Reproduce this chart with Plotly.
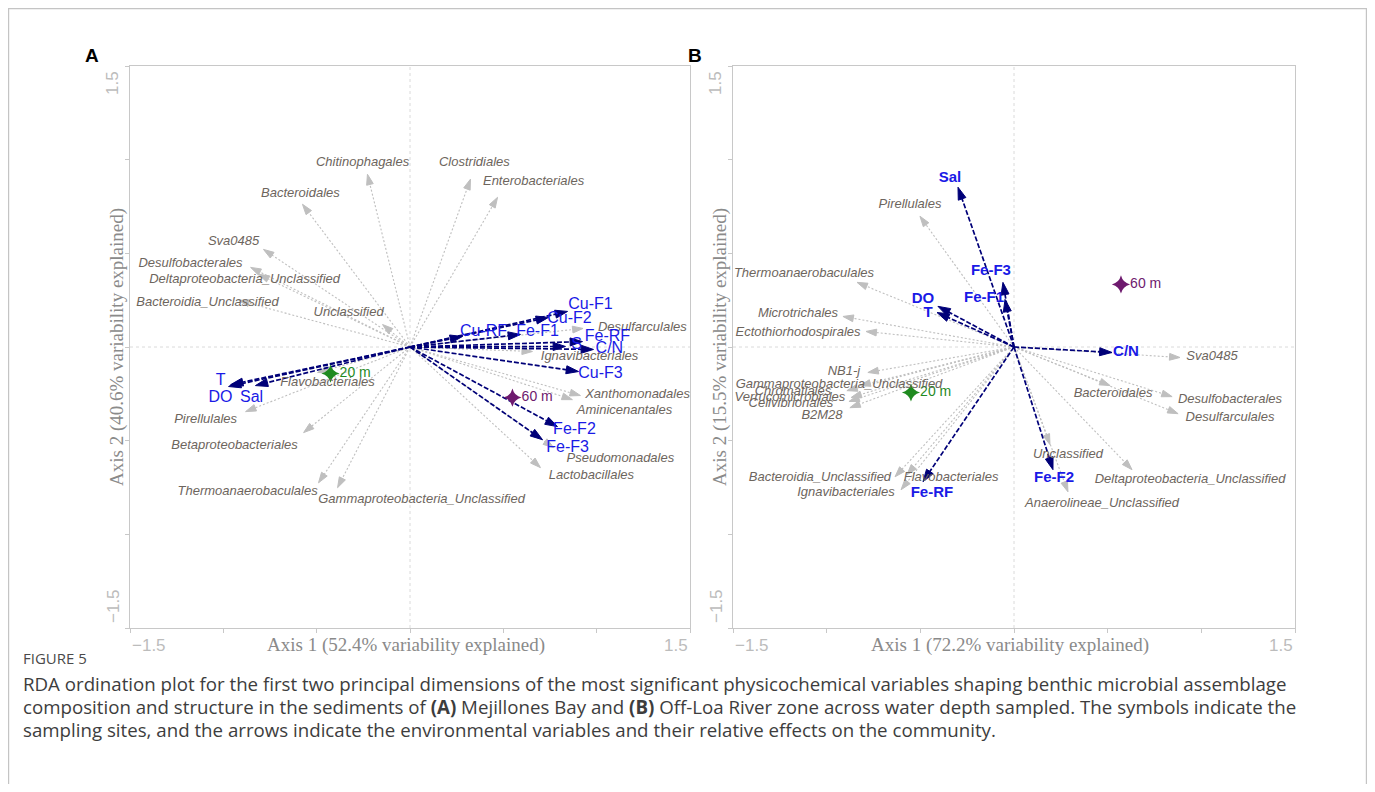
import plotly.graph_objects as go

W, H = 1375, 792
OFF = 8                      # default page margin around the plot div
FW, FH = W - 2 * OFF, H - 2 * OFF

# ---------------- Panel A (Mejillones Bay) ----------------
A_sp_names = ["Chitinophagales", "Bacteroidales", "Sva0485", "Desulfobacterales",
              "Deltaproteobacteria_Unclassified", "Bacteroidia_Unclassified", "Unclassified",
              "Flavobacteriales", "Pirellulales", "Betaproteobacteriales", "Thermoanaerobaculales",
              "Gammaproteobacteria_Unclassified", "Clostridiales", "Enterobacteriales",
              "Desulfarculales", "Ignavibacteriales", "Xanthomonadales", "Aminicenantales",
              "Pseudomonadales", "Lactobacillales"]
A_sp_x = [-0.228, -0.576, -0.785, -0.854, -0.811, -0.918, -0.147, -0.495, -0.881, -0.570,
          -0.490, -0.388, 0.324, 0.469, 0.927, 0.656, 0.913, 0.870, 0.769, 0.699]
A_sp_y = [0.922, 0.762, 0.521, 0.425, 0.388, 0.249, 0.120, -0.136, -0.345, -0.457,
          -0.725, -0.751, 0.896, 0.799, 0.099, -0.024, -0.259, -0.281, -0.537, -0.644]
A_sp_lx = [-0.254, -0.587, -0.945, -1.176, -0.886, -1.085, -0.329, -0.442, -1.095, -0.940,
           -0.870, 0.062, 0.345, 0.662, 1.245, 0.962, 1.219, 1.149, 1.127, 0.972]
A_sp_ly = [0.981, 0.816, 0.564, 0.447, 0.361, 0.238, 0.184, -0.190, -0.388, -0.527,
           -0.773, -0.816, 0.981, 0.880, 0.104, -0.051, -0.254, -0.340, -0.596, -0.687]

A_env_names = ["Cu-F1", "Cu-F2", "Cu-RF", "Fe-F1", "Fe-RF", "S", "C/N", "Cu-F3",
               "Fe-F2", "Fe-F3", "T", "DO", "Sal"]
A_env_x = [0.844, 0.742, 0.281, 0.592, 0.924, 0.833, 0.983, 0.903, 0.790, 0.710,
           -0.961, -0.972, -0.828]
A_env_y = [0.190, 0.158, 0.056, 0.067, 0.029, 0.003, -0.013, -0.131, -0.425, -0.495,
           -0.201, -0.211, -0.206]
A_env_lx = [0.967, 0.854, 0.394, 0.683, 1.058, 0.892, 1.068, 1.020, 0.881, 0.844,
            -1.015, -1.015, -0.849]
A_env_ly = [0.222, 0.152, 0.078, 0.078, 0.051, 0.013, -0.008, -0.142, -0.441, -0.537,
            -0.184, -0.270, -0.270]

A_site_names = ["20 m", "60 m"]
A_site_x = [-0.426, 0.549]
A_site_y = [-0.142, -0.270]

# ---------------- Panel B (Off-Loa River) ----------------
B_sp_names = ["Pirellulales", "Thermoanaerobaculales", "Microtrichales", "Ectothiorhodospirales",
              "NB1-j", "Gammaproteobacteria_Unclassified", "Chromatiales", "Verrucomicrobiales",
              "Cellvibrionales", "B2M28", "Bacteroidia_Unclassified", "Flavobacteriales",
              "Ignavibacteriales", "Sva0485", "Bacteroidales", "Desulfobacterales",
              "Desulfarculales", "Unclassified", "Anaerolineae_Unclassified",
              "Deltaproteobacteria_Unclassified"]
B_sp_x = [-0.502, -0.838, -0.913, -0.790, -0.780, -0.822, -0.892, -0.870, -0.881, -0.876,
          -0.635, -0.571, -0.603, 0.886, 0.513, 0.844, 0.876, 0.192, 0.288, 0.630]
B_sp_y = [0.698, 0.345, 0.163, 0.083, -0.136, -0.206, -0.233, -0.270, -0.291, -0.324,
          -0.693, -0.682, -0.762, -0.056, -0.206, -0.265, -0.356, -0.521, -0.773, -0.655]
B_sp_lx = [-0.555, -1.121, -1.153, -1.153, -0.908, -0.934, -1.180, -1.196, -1.191, -1.025,
           -1.036, -0.336, -0.897, 1.057, 0.529, 1.153, 1.153, 0.288, 0.470, 0.940]
B_sp_ly = [0.757, 0.393, 0.179, 0.078, -0.131, -0.201, -0.238, -0.270, -0.302, -0.366,
           -0.698, -0.698, -0.778, -0.051, -0.249, -0.281, -0.377, -0.575, -0.837, -0.709]

B_env_names = ["Sal", "Fe-F3", "Fe-F1", "DO", "T", "C/N", "Fe-F2", "Fe-RF"]
B_env_x = [-0.299, -0.059, -0.048, -0.406, -0.411, 0.523, 0.208, -0.486]
B_env_y = [0.853, 0.345, 0.254, 0.217, 0.184, -0.029, -0.655, -0.719]
B_env_lx = [-0.342, -0.123, -0.160, -0.486, -0.459, 0.598, 0.214, -0.438]
B_env_ly = [0.901, 0.404, 0.259, 0.254, 0.179, -0.029, -0.698, -0.783]

B_site_names = ["20 m", "60 m"]
B_site_x = [-0.550, 0.571]
B_site_y = [-0.243, 0.334]

site_colors = ["#1f8a1f", "#6e1a6e"]

axis1_titles = ["Axis 1 (52.4% variability explained)", "Axis 1 (72.2% variability explained)"]
axis2_titles = ["Axis 2 (40.6% variability explained)", "Axis 2 (15.5% variability explained)"]
panel_letters = ["A", "B"]
tick_lo, tick_hi = "\u22121.5", "1.5"

caption_head = "FIGURE 5"
caption_lines = [
    "RDA ordination plot for the first two principal dimensions of the most significant physicochemical variables shaping benthic microbial assemblage",
    "composition and structure in the sediments of <b>(A)</b> Mejillones Bay and <b>(B)</b> Off-Loa River zone across water depth sampled. The symbols indicate the",
    "sampling sites, and the arrows indicate the environmental variables and their relative effects on the community.",
]

# ---------------- styles ----------------
SP_LINE = "#bfbfbf"
SP_TEXT = "#6d655d"
ENV_LINE = "#000078"
ENV_TEXT = "#1a1ae6"
AX_COL = "#c8c8c8"
SANS = "Liberation Sans, Arial, sans-serif"
SERIF = "Liberation Serif, Times New Roman, serif"
CAP_FONT = "Open Sans, sans-serif"

# page-pixel layout of the two plot boxes
PX = {"A": (130, 690), "B": (733, 1295)}
PY_TOP, PY_BOT = 66, 628


def pxx(v):
    return (v - OFF) / FW


def pxy(v):
    return 1 - (v - OFF) / FH


def arrow_trace(xs, ys, color, dash, width, head, xa, ya):
    X, Y, S = [], [], []
    for x, y in zip(xs, ys):
        X += [0, x, None]
        Y += [0, y, None]
        S += [0, head, 0]
    return go.Scatter(
        x=X, y=Y, mode="lines+markers", xaxis=xa, yaxis=ya,
        line=dict(color=color, dash=dash, width=width),
        marker=dict(symbol="arrow", size=S, color=color, angleref="previous", opacity=1,
                    line=dict(width=1, color=color)),
        hoverinfo="skip", showlegend=False, cliponaxis=False,
    )


def text_trace(xs, ys, names, color, size, xa, ya, italic=False, bold=False):
    return go.Scatter(
        x=xs, y=ys, mode="text", text=names, xaxis=xa, yaxis=ya,
        textposition="middle center",
        textfont=dict(family=SANS, size=size, color=color,
                      style="italic" if italic else "normal",
                      weight="bold" if bold else "normal"),
        hoverinfo="skip", showlegend=False, cliponaxis=False,
    )


def site_trace(xs, ys, names, xa, ya):
    return go.Scatter(
        x=xs, y=ys, mode="markers+text", text=names, textposition="middle right",
        xaxis=xa, yaxis=ya,
        marker=dict(symbol="star-diamond", size=13, color=site_colors, line=dict(width=0)),
        textfont=dict(family=SANS, size=14, color=site_colors),
        hoverinfo="skip", showlegend=False, cliponaxis=False,
    )


fig = go.Figure()

panels = [
    ("x", "y", A_sp_x, A_sp_y, A_sp_lx, A_sp_ly, A_sp_names,
     A_env_x, A_env_y, A_env_lx, A_env_ly, A_env_names,
     A_site_x, A_site_y, A_site_names, 16, False),
    ("x2", "y2", B_sp_x, B_sp_y, B_sp_lx, B_sp_ly, B_sp_names,
     B_env_x, B_env_y, B_env_lx, B_env_ly, B_env_names,
     B_site_x, B_site_y, B_site_names, 15, True),
]

for (xa, ya, sx, sy, slx, sly, sn, ex, ey, elx, ely, en, stx, sty, stn, esz, ebold) in panels:
    fig.add_trace(arrow_trace(sx, sy, SP_LINE, "2px,2px", 1.1, 11, xa, ya))
    fig.add_trace(arrow_trace(ex, ey, ENV_LINE, "5px,2px", 1.7, 13, xa, ya))
    fig.add_trace(site_trace(stx, sty, stn, xa, ya))
    fig.add_trace(text_trace(slx, sly, sn, SP_TEXT, 13, xa, ya, italic=True))
    fig.add_trace(text_trace(elx, ely, en, ENV_TEXT, esz, xa, ya, bold=ebold))

ax_common = dict(range=[-1.5, 1.5], showline=True, mirror=True, linecolor=AX_COL, linewidth=1,
                 ticks="outside", ticklen=4, tickcolor=AX_COL, tick0=0, dtick=0.5,
                 showticklabels=False, showgrid=False, zeroline=False, fixedrange=True)

ydom = [pxy(PY_BOT), pxy(PY_TOP)]
fig.update_layout(
    width=FW, height=FH, autosize=False,
    margin=dict(l=0, r=0, t=0, b=0),
    paper_bgcolor="white", plot_bgcolor="white",
    xaxis=dict(domain=[pxx(PX["A"][0]), pxx(PX["A"][1])], anchor="y", **ax_common),
    yaxis=dict(domain=ydom, anchor="x", **ax_common),
    xaxis2=dict(domain=[pxx(PX["B"][0]), pxx(PX["B"][1])], anchor="y2", **ax_common),
    yaxis2=dict(domain=ydom, anchor="x2", **ax_common),
)

shapes = []
# zero reference lines
for xa, ya in [("x", "y"), ("x2", "y2")]:
    shapes.append(dict(type="line", xref=xa, yref=ya, x0=0, x1=0, y0=-1.5, y1=1.5,
                       line=dict(color="#dadada", width=1, dash="dot"), layer="below"))
    shapes.append(dict(type="line", xref=xa, yref=ya, x0=-1.5, x1=1.5, y0=0, y1=0,
                       line=dict(color="#dadada", width=1, dash="dot"), layer="below"))
# outer figure frame
shapes.append(dict(type="rect", xref="paper", yref="paper", x0=pxx(8.6), x1=pxx(1366.4),
                   y0=pxy(8.6), y1=pxy(830), line=dict(color="#c4c4c4", width=1.2),
                   fillcolor="rgba(0,0,0,0)", layer="below"))
fig.update_layout(shapes=shapes)

ann = []
for i, key in enumerate(["A", "B"]):
    x0, x1 = PX[key]
    xc = (x0 + x1) / 2
    # panel letter
    ann.append(dict(text="<b>%s</b>" % panel_letters[i], x=pxx(x0 - 47), y=pxy(55),
                    xref="paper", yref="paper", showarrow=False, xanchor="left", yanchor="middle",
                    font=dict(family=SANS, size=19, color="black")))
    # x axis title + end tick labels
    ann.append(dict(text=axis1_titles[i], x=pxx(xc - 4), y=pxy(645), xref="paper", yref="paper",
                    showarrow=False, xanchor="center", yanchor="middle",
                    font=dict(family=SERIF, size=19, color="#8a8a8a")))
    ann.append(dict(text=tick_lo, x=pxx(x0), y=pxy(645), xref="paper", yref="paper",
                    showarrow=False, xanchor="left", yanchor="middle",
                    font=dict(family=SANS, size=17, color="#bcbcbc")))
    ann.append(dict(text=tick_hi, x=pxx(x1), y=pxy(645), xref="paper", yref="paper",
                    showarrow=False, xanchor="right", yanchor="middle",
                    font=dict(family=SANS, size=17, color="#bcbcbc")))
    # y axis title + end tick labels (rotated)
    ann.append(dict(text=axis2_titles[i], x=pxx(x0 - 13), y=pxy(347), xref="paper", yref="paper",
                    showarrow=False, xanchor="center", yanchor="middle", textangle=-90,
                    font=dict(family=SERIF, size=19, color="#8a8a8a")))
    ann.append(dict(text=tick_hi, x=pxx(x0 - 17), y=pxy(69), xref="paper", yref="paper",
                    showarrow=False, xanchor="center", yanchor="top", textangle=-90,
                    font=dict(family=SANS, size=17, color="#bcbcbc")))
    ann.append(dict(text=tick_lo, x=pxx(x0 - 17), y=pxy(625), xref="paper", yref="paper",
                    showarrow=False, xanchor="center", yanchor="bottom", textangle=-90,
                    font=dict(family=SANS, size=17, color="#bcbcbc")))

# caption
ann.append(dict(text=caption_head, x=pxx(21), y=pxy(658), xref="paper", yref="paper",
                showarrow=False, xanchor="left", yanchor="middle",
                font=dict(family=CAP_FONT, size=15, color="#4a4a4a")))
for j, line in enumerate(caption_lines):
    ann.append(dict(text=line, x=pxx(21), y=pxy(683 + 23 * j), xref="paper", yref="paper",
                    showarrow=False, xanchor="left", yanchor="middle",
                    font=dict(family=CAP_FONT, size=18.7, color="#3d3d3d")))

fig.update_layout(annotations=ann)

fig.write_html("out.html")
